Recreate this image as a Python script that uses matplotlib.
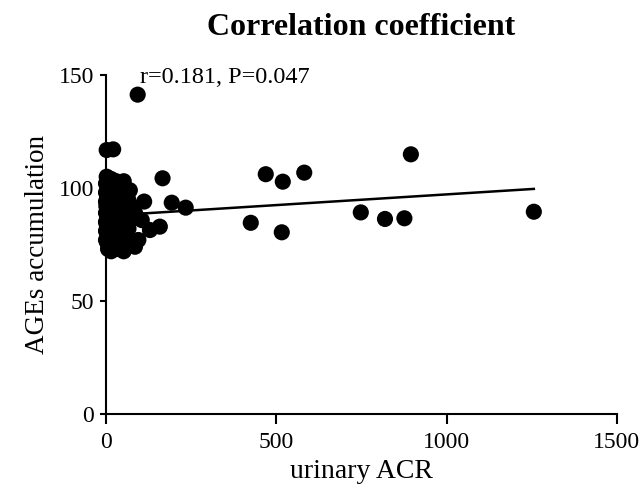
import matplotlib
matplotlib.use("Agg")
import matplotlib.pyplot as plt

plt.rcParams['font.family'] = ['Liberation Serif', 'DejaVu Serif']

# urinary ACR vs AGEs accumulation
acr = [2, 8, 15, 22, 30, 45, 52, 5, 12, 25, 35, 60, 70,
       3, 10, 18, 28, 40, 55, 65, 75,
       1, 7, 14, 20, 33, 48, 58, 68, 80,
       4, 11, 19, 26, 38, 50, 62, 72,
       2, 9, 16, 24, 31, 42, 55, 66,
       5, 13, 21, 29, 37, 46, 58,
       3, 10, 18, 27, 35, 44, 52,
       6, 15, 25,
       0, 0, 0, 0, 0, 0, 0,
       2, 21, 93, 166, 112, 193, 234, 158, 129, 95, 85, 105, 85,
       469, 519, 582, 895, 425, 516, 748, 819, 876, 1256]
ages = [105, 103, 104, 102, 103, 101, 103, 100, 99, 100, 98, 97, 99,
        96, 95, 97, 94, 96, 93, 95, 92,
        92, 91, 90, 92, 91, 89, 90, 88, 91,
        88, 87, 86, 88, 85, 87, 84, 86,
        84, 83, 82, 84, 81, 83, 80, 82,
        80, 79, 78, 80, 77, 79, 76,
        76, 75, 74, 76, 73, 75, 72,
        73, 72, 73,
        98, 94, 89, 85, 81, 77, 102,
        116.8, 117.1, 141.3, 104.3, 94, 93.5, 91.3, 82.9, 81.4, 77, 74, 85.8, 89,
        106.1, 102.8, 106.8, 114.9, 84.6, 80.4, 89.2, 86.3, 86.6, 89.5]

# regression line end points
fit_x = [0, 1256]
fit_y = [87.7, 99.6]

x_ticks = [0, 500, 1000, 1500]
y_ticks = [0, 50, 100, 150]

fig = plt.figure(figsize=(6.44, 4.96), dpi=100)
ax = fig.add_axes([0.1646, 0.1653, 0.7934, 0.6835])

ax.plot(fit_x, fit_y, color='black', lw=1.8, zorder=2)
ax.scatter(acr, ages, s=135, color='black', edgecolors='none', clip_on=False, zorder=3)

ax.set_xlim(0, 1500)
ax.set_ylim(0, 150)
ax.set_xticks(x_ticks)
ax.set_yticks(y_ticks)

for side in ['top', 'right']:
    ax.spines[side].set_visible(False)
for side in ['left', 'bottom']:
    ax.spines[side].set_linewidth(1.5)

ax.tick_params(axis='x', length=7, width=1.5, pad=6, labelsize=17)
ax.tick_params(axis='y', length=4.5, width=1.5, pad=4, labelsize=17)

ax.set_xlabel('urinary ACR', fontsize=20, labelpad=4)
ax.set_ylabel('AGEs accumulation', fontsize=19.5, labelpad=6)
ax.set_title('Correlation coefficient', fontsize=23, fontweight='bold', pad=29)

ax.text(100, 146.5, 'r=0.181, P=0.047', fontsize=17.5, ha='left', va='baseline')

fig.savefig('out.png', dpi=100)
